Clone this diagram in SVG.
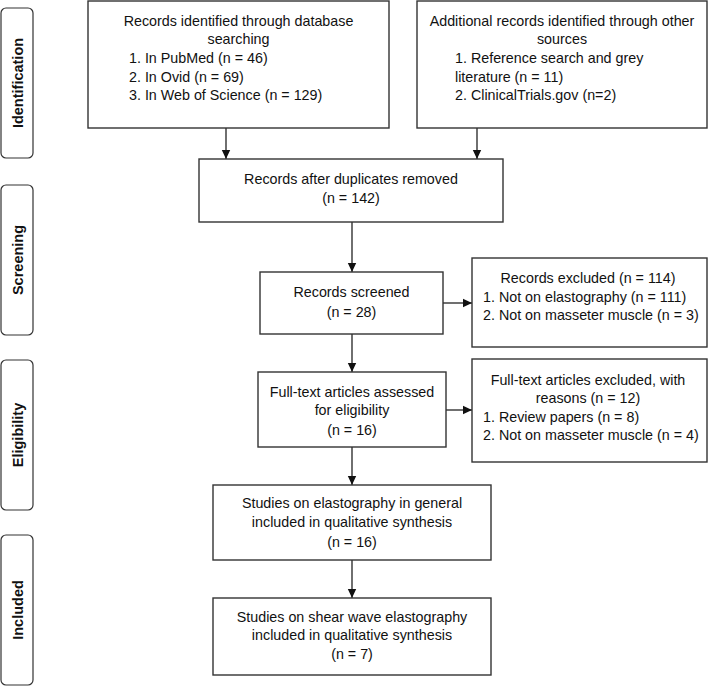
<svg xmlns="http://www.w3.org/2000/svg" width="708" height="686" viewBox="0 0 708 686">
<style>
.box{fill:#fff;stroke:#333;stroke-width:1.4}
.lab{fill:#fff;stroke:#333;stroke-width:1.2}
text{font-family:"Liberation Sans",Arial,sans-serif;font-size:14.3px;fill:#111}
.c{text-anchor:middle}
.side{font-weight:bold;font-size:14.5px;text-anchor:middle;dominant-baseline:central}
.conn{stroke:#222;stroke-width:1.3;fill:none;marker-end:url(#ah)}
</style>
<defs>
<marker id="ah" markerWidth="10" markerHeight="10" refX="9" refY="5" orient="auto" markerUnits="userSpaceOnUse">
<path d="M0,0.8 L9,5 L0,9.2 Z" fill="#111"/>
</marker>
</defs>
<rect width="708" height="686" fill="#fff"/>

<g id="stage-identification">
<rect class="lab" x="1" y="8" width="32" height="150" rx="5"/>
<text class="side" transform="translate(18,83) rotate(-90)">Identification</text>
</g>
<g id="stage-screening">
<rect class="lab" x="1" y="185" width="32" height="150" rx="5"/>
<text class="side" transform="translate(18,260) rotate(-90)">Screening</text>
</g>
<g id="stage-eligibility">
<rect class="lab" x="1" y="360" width="32" height="150" rx="5"/>
<text class="side" transform="translate(18,435) rotate(-90)">Eligibility</text>
</g>
<g id="stage-included">
<rect class="lab" x="1" y="535" width="32" height="150" rx="5"/>
<text class="side" transform="translate(18,610) rotate(-90)">Included</text>
</g>

<g id="connectors">
<path class="conn" d="M226,128 V159"/>
<path class="conn" d="M477,128 V159"/>
<path class="conn" d="M352,222 V272"/>
<path class="conn" d="M443,303 H472"/>
<path class="conn" d="M352,334 V372"/>
<path class="conn" d="M446,410 H472"/>
<path class="conn" d="M352,447 V485"/>
<path class="conn" d="M352,560 V598"/>
</g>

<g id="db-records">
<rect class="box" x="88" y="1" width="301" height="127"/>
<text class="c" x="238.5" y="26">Records identified through database</text>
<text class="c" x="238.5" y="44">searching</text>
<text x="129" y="63">1. In PubMed (n = 46)</text>
<text x="129" y="82">2. In Ovid (n = 69)</text>
<text x="129" y="100">3. In Web of Science (n = 129)</text>
</g>

<g id="other-records">
<rect class="box" x="417" y="1" width="290" height="127"/>
<text class="c" x="562" y="26">Additional records identified through other</text>
<text class="c" x="562" y="44">sources</text>
<text x="455" y="63">1. Reference search and grey</text>
<text x="455" y="82">literature (n = 11)</text>
<text x="455" y="100">2. ClinicalTrials.gov (n=2)</text>
</g>

<g id="dedup">
<rect class="box" x="199" y="159" width="304" height="63"/>
<text class="c" x="351" y="184">Records after duplicates removed</text>
<text class="c" x="351" y="203">(n = 142)</text>
</g>

<g id="screened">
<rect class="box" x="260" y="272" width="183" height="62"/>
<text class="c" x="351.5" y="297">Records screened</text>
<text class="c" x="351.5" y="317">(n = 28)</text>
</g>

<g id="excluded">
<rect class="box" x="472" y="258" width="235" height="89"/>
<text class="c" x="588" y="283">Records excluded (n = 114)</text>
<text x="483" y="302">1. Not on elastography (n = 111)</text>
<text x="483" y="320">2. Not on masseter muscle (n = 3)</text>
</g>

<g id="fulltext">
<rect class="box" x="258" y="372" width="188" height="75"/>
<text class="c" x="352" y="397">Full-text articles assessed</text>
<text class="c" x="352" y="415">for eligibility</text>
<text class="c" x="352" y="435">(n = 16)</text>
</g>

<g id="fulltext-excluded">
<rect class="box" x="472" y="359" width="235" height="103"/>
<text class="c" x="588" y="385">Full-text articles excluded, with</text>
<text class="c" x="588" y="403">reasons (n = 12)</text>
<text x="483" y="422">1. Review papers (n = 8)</text>
<text x="483" y="440">2. Not on masseter muscle (n = 4)</text>
</g>

<g id="general">
<rect class="box" x="213" y="485" width="278" height="75"/>
<text class="c" x="352" y="508">Studies on elastography in general</text>
<text class="c" x="352" y="527">included in qualitative synthesis</text>
<text class="c" x="352" y="547">(n = 16)</text>
</g>

<g id="swe">
<rect class="box" x="213" y="598" width="278" height="77"/>
<text class="c" x="352" y="622">Studies on shear wave elastography</text>
<text class="c" x="352" y="640">included in qualitative synthesis</text>
<text class="c" x="352" y="659">(n = 7)</text>
</g>
</svg>
